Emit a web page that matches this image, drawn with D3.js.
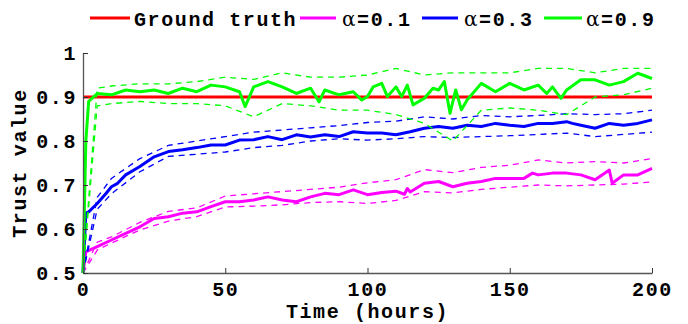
<!DOCTYPE html>
<html>
<head>
<meta charset="utf-8">
<script src="https://cdn.jsdelivr.net/npm/d3@7"></script>
<style>
  body { margin: 0; background: #fff; }
  text { font-family: "Liberation Mono", "Courier New", monospace; font-weight: bold; letter-spacing: 1.6px; }
</style>
</head>
<body>
<div id="chart-area"></div>
<script>

let width = 688,
    height = 324;

let margin = {left: 83, right: 36, top: 53, bottom: 51};

// data
let groundTruth = 0.9;

let tA1 = [0, 1, 5, 10, 15, 20, 25, 30, 35, 40, 45, 50, 55, 60, 65, 70, 75, 80, 85, 90, 95, 100,
  105, 110, 113, 114, 115, 120, 125, 130, 135, 140, 145, 150, 155, 158, 160, 165, 170, 175, 180, 185, 186, 190, 195, 200];
let meanA1 = [0.5, 0.548, 0.56, 0.575, 0.59, 0.605, 0.624, 0.628, 0.636, 0.639, 0.651, 0.662, 0.662, 0.666, 0.673, 0.666, 0.662, 0.673, 0.681, 0.678, 0.689, 0.678,
  0.683, 0.686, 0.679, 0.692, 0.684, 0.704, 0.708, 0.696, 0.704, 0.708, 0.715, 0.715, 0.715, 0.727, 0.723, 0.727, 0.727, 0.723, 0.712, 0.734, 0.704, 0.723, 0.723, 0.738];

let tA3 = [0, 1, 2, 5, 8, 10, 12, 15, 20, 25, 30, 35, 40, 45, 50, 55, 60, 65, 70, 75, 80, 85, 90, 95, 100,
  105, 110, 115, 120, 125, 130, 135, 140, 145, 150, 155, 160, 165, 170, 172, 175, 180, 185, 190, 195, 200];
let meanA3 = [0.5, 0.636, 0.639, 0.658, 0.68, 0.696, 0.703, 0.723, 0.742, 0.764, 0.776, 0.78, 0.785, 0.791, 0.791, 0.802, 0.803, 0.81, 0.803, 0.814, 0.809, 0.814, 0.81, 0.821, 0.818,
  0.818, 0.814, 0.821, 0.829, 0.833, 0.829, 0.836, 0.833, 0.84, 0.836, 0.833, 0.84, 0.84, 0.844, 0.84, 0.836, 0.829, 0.84, 0.836, 0.84, 0.848];

let tA9 = [0, 1, 2, 5, 10, 15, 20, 25, 30, 35, 40, 45, 50, 55, 57, 60, 65, 70, 75, 80, 83, 85, 90, 95, 98, 100,
  102, 105, 107, 110, 112, 114, 116, 120, 123, 125, 127, 129, 131, 133, 135, 140, 145, 150, 155, 160, 163, 165, 168, 170, 175, 180, 185, 190, 195, 200];
let meanA9 = [0.5, 0.8, 0.89, 0.908, 0.905, 0.916, 0.912, 0.916, 0.908, 0.92, 0.912, 0.927, 0.923, 0.912, 0.878, 0.923, 0.935, 0.923, 0.908, 0.92, 0.889, 0.916, 0.905, 0.912, 0.893, 0.901,
  0.923, 0.931, 0.901, 0.923, 0.901, 0.927, 0.882, 0.897, 0.92, 0.916, 0.935, 0.863, 0.916, 0.871, 0.893, 0.931, 0.912, 0.931, 0.916, 0.927, 0.908, 0.923, 0.897, 0.916, 0.939, 0.939, 0.927, 0.935, 0.954, 0.942];

// dashed bounds
let tBand = [0, 5, 10, 20, 30, 40, 50, 60, 70, 80, 90, 100, 110, 120, 130, 140, 150, 160, 170, 180, 190, 200];
let upA1 = [0.5, 0.57, 0.582, 0.615, 0.64, 0.648, 0.675, 0.68, 0.685, 0.69, 0.695, 0.705, 0.712, 0.735, 0.728, 0.74, 0.745, 0.757, 0.75, 0.753, 0.75, 0.76];
let loA1 = [0.5, 0.552, 0.568, 0.598, 0.618, 0.628, 0.65, 0.652, 0.655, 0.66, 0.662, 0.658, 0.665, 0.685, 0.682, 0.69, 0.695, 0.7, 0.698, 0.7, 0.702, 0.707];
let upA3 = [0.5, 0.672, 0.715, 0.76, 0.79, 0.8, 0.81, 0.82, 0.825, 0.83, 0.835, 0.842, 0.845, 0.855, 0.85, 0.858, 0.855, 0.858, 0.862, 0.86, 0.862, 0.87];
let loA3 = [0.5, 0.645, 0.68, 0.73, 0.765, 0.77, 0.775, 0.785, 0.79, 0.8, 0.805, 0.802, 0.805, 0.81, 0.808, 0.81, 0.812, 0.815, 0.818, 0.81, 0.815, 0.82];
let upA9 = [0.5, 0.92, 0.925, 0.93, 0.93, 0.935, 0.945, 0.94, 0.955, 0.945, 0.945, 0.95, 0.965, 0.95, 0.955, 0.955, 0.955, 0.965, 0.965, 0.955, 0.965, 0.965];
let loA9 = [0.5, 0.88, 0.885, 0.89, 0.885, 0.885, 0.88, 0.855, 0.885, 0.88, 0.87, 0.87, 0.86, 0.84, 0.80, 0.87, 0.875, 0.87, 0.86, 0.9, 0.905, 0.92];

let xTicks = [0, 50, 100, 150, 200];
let yTicks = [0.5, 0.6, 0.7, 0.8, 0.9, 1];

let svg = d3.select("#chart-area").append("svg")
    .attr("width", width)
    .attr("height", height);

let x = d3.scaleLinear().domain([0, 200]).range([margin.left, width - margin.right]);
let y = d3.scaleLinear().domain([0.5, 1]).range([height - margin.bottom, margin.top]);

let line = d3.line()
  .x(d => x(d[0]))
  .y(d => y(d[1]));

function pairs(ts, vs) { return ts.map((t, i) => [t, vs[i]]); }

let series = [
  {t: tA1, m: meanA1, up: upA1, lo: loA1, color: "#ff00ff"},
  {t: tA3, m: meanA3, up: upA3, lo: loA3, color: "#0000ff"},
  {t: tA9, m: meanA9, up: upA9, lo: loA9, color: "#00ff00"}
];

// ground truth
svg.append("line")
  .attr("x1", x(0)).attr("x2", x(200))
  .attr("y1", y(groundTruth)).attr("y2", y(groundTruth))
  .attr("stroke", "#ff0000").attr("stroke-width", 3);

series.forEach(s => {
  [s.up, s.lo].forEach(b => {
    svg.append("path")
      .attr("d", line(pairs(tBand, b)))
      .attr("fill", "none")
      .attr("stroke", s.color)
      .attr("stroke-width", 1.3)
      .attr("stroke-dasharray", "6,5");
  });
  svg.append("path")
    .attr("d", line(pairs(s.t, s.m)))
    .attr("fill", "none")
    .attr("stroke", s.color)
    .attr("stroke-width", 3)
    .attr("stroke-linejoin", "round");
});

// axes
let xAxis = svg.append("g")
  .attr("transform", "translate(0," + (height - margin.bottom) + ")")
  .call(d3.axisBottom(x).tickValues(xTicks).tickSizeInner(-5).tickSizeOuter(0).tickPadding(9).tickFormat(d3.format("d")));
let yAxis = svg.append("g")
  .attr("transform", "translate(" + margin.left + ",0)")
  .call(d3.axisLeft(y).tickValues(yTicks).tickSizeInner(-5).tickSizeOuter(0).tickPadding(6).tickFormat(d => d === 1 ? "1" : d3.format(".1f")(d)));

[xAxis, yAxis].forEach(a => {
  a.select(".domain").attr("stroke", "#555").attr("stroke-width", 1.3);
  a.selectAll(".tick line").attr("stroke", "#333");
  a.selectAll(".tick text").attr("fill", "#000").style("font-size", "20px");
});

svg.append("text")
  .attr("x", (x(0) + x(200)) / 2)
  .attr("y", 318)
  .attr("text-anchor", "middle")
  .style("font-size", "20px")
  .text("Time (hours)");

svg.append("text")
  .attr("transform", "translate(26," + y(0.75) + ") rotate(-90)")
  .attr("text-anchor", "middle")
  .style("font-size", "20px")
  .text("Trust value");

// legend
let legend = [
  {label: "Ground truth", color: "#ff0000", x1: 90, x2: 130, tx: 134},
  {label: "α=0.1", color: "#ff00ff", x1: 300, x2: 336, tx: 342},
  {label: "α=0.3", color: "#0000ff", x1: 422, x2: 458, tx: 464},
  {label: "α=0.9", color: "#00ff00", x1: 544, x2: 582, tx: 586}
];

legend.forEach(l => {
  svg.append("line")
    .attr("x1", l.x1).attr("x2", l.x2)
    .attr("y1", 18).attr("y2", 18)
    .attr("stroke", l.color).attr("stroke-width", 3);
  let t = svg.append("text")
    .attr("x", l.tx).attr("y", 26)
    .style("font-size", "20px");
  if (l.label[0] === "α") {
    t.append("tspan").style("font-family", "DejaVu Serif").style("font-weight", "normal").text("α");
    t.append("tspan").text(l.label.slice(1));
  } else {
    t.text(l.label);
  }
});

</script>
</body>
</html>
